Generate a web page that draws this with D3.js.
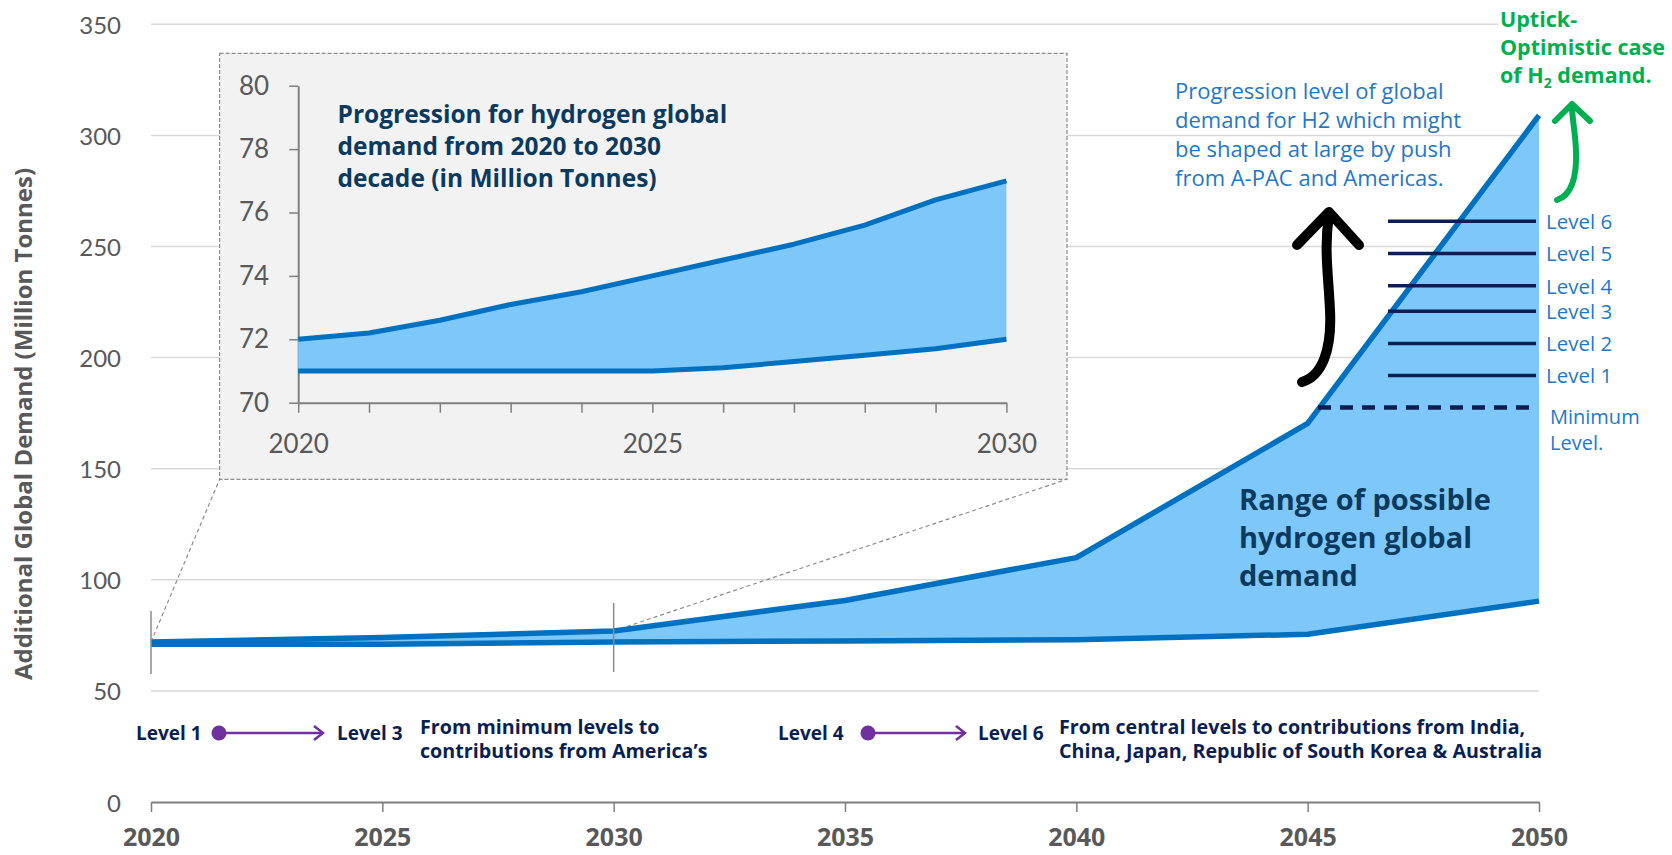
<!DOCTYPE html>
<html>
<head>
<meta charset="utf-8">
<script src="https://cdn.jsdelivr.net/npm/d3@7"></script>
<style>
  body { margin: 0; background: #fff; }
  svg { display: block; font-family: "Open Sans", Lato, sans-serif; }
</style>
</head>
<body>
<svg width="1672" height="855"></svg>
<script>
const [WIDTH, HEIGHT] = [1672, 855]

// main chart data (million tonnes)
const years = [2020, 2025, 2030, 2035, 2040, 2045, 2050]
const upperMain = [72, 74, 77, 90.7, 110, 170.4, 309]
const lowerMain = [71, 71, 72, 72.5, 73, 75.5, 90.4]
const yTicks = [0, 50, 100, 150, 200, 250, 300, 350]

// inset 2020-2030
const insetYears = [2020, 2021, 2022, 2023, 2024, 2025, 2026, 2027, 2028, 2029, 2030]
const insetUpper = [72.0, 72.2, 72.6, 73.1, 73.5, 74.0, 74.5, 75.0, 75.6, 76.4, 77.0]
const insetLower = [71.0, 71.0, 71.0, 71.0, 71.0, 71.0, 71.1, 71.3, 71.5, 71.7, 72.0]
const insetYTicks = [70, 72, 74, 76, 78, 80]
const insetXLabels = [2020, 2025, 2030]

// levels marked on the 2050 range
const levelNames = ["Level 1", "Level 2", "Level 3", "Level 4", "Level 5", "Level 6"]
const levelValues = [192, 206.4, 220.9, 232.3, 246.9, 261.4]
const minLevel = 177.5

const C = {
    grid: "#d9d9d9", axis: "#7f7f7f", tick: "#595959",
    fill: "#7dc8f8", line: "#0070c0", navy: "#0b1f52",
    title: "#0b3a5e", blue: "#1f78c8", green: "#00b050", purple: "#7030a0"
}
const LATO = "Lato, sans-serif"

const svg = d3.select("svg").attr("viewBox", "0 0 " + WIDTH + " " + HEIGHT)

const x = d3.scaleLinear().domain([2020, 2050]).range([151, 1539])
const y = d3.scaleLinear().domain([0, 350]).range([802, 24.3])

const main = years.map((yr, i) => ({ year: yr, hi: upperMain[i], lo: lowerMain[i] }))

// gridlines
svg.append("g").selectAll("line")
    .data(yTicks.filter(d => d > 0))
    .join("line")
    .attr("x1", x(2020)).attr("x2", x(2050))
    .attr("y1", d => y(d)).attr("y2", d => y(d))
    .attr("stroke", C.grid).attr("stroke-width", 1.5)

// y tick labels
svg.append("g").selectAll("text")
    .data(yTicks)
    .join("text")
    .attr("x", 121).attr("y", d => y(d))
    .attr("text-anchor", "end").attr("dominant-baseline", "central")
    .attr("font-family", LATO).attr("font-size", 24).attr("fill", C.tick)
    .text(d => d)

// y title
svg.append("text")
    .attr("transform", "translate(32,424) rotate(-90)")
    .attr("text-anchor", "middle")
    .attr("font-size", 24).attr("font-weight", 700).attr("fill", C.tick)
    .text("Additional Global Demand (Million Tonnes)")

// inset box geometry
const box = { x0: 219.6, x1: 1067, y0: 53.3, y1: 479.3 }

// connectors from main chart to inset
const conn = svg.append("g").attr("stroke", "#8c8c8c").attr("stroke-width", 1.2)
    .attr("stroke-dasharray", "4,3")
conn.append("line").attr("x1", x(2020)).attr("y1", y(72)).attr("x2", box.x0).attr("y2", box.y1)
conn.append("line").attr("x1", x(2030)).attr("y1", y(77)).attr("x2", box.x1).attr("y2", box.y1)

// area + lines
const area = d3.area().x(d => x(d.year)).y0(d => y(d.lo)).y1(d => y(d.hi))
svg.append("path").datum(main).attr("d", area).attr("fill", C.fill)
const lineHi = d3.line().x(d => x(d.year)).y(d => y(d.hi))
const lineLo = d3.line().x(d => x(d.year)).y(d => y(d.lo))
svg.append("path").datum(main).attr("d", lineHi).attr("fill", "none")
    .attr("stroke", C.line).attr("stroke-width", 5.5).attr("stroke-linejoin", "round")
svg.append("path").datum(main).attr("d", lineLo).attr("fill", "none")
    .attr("stroke", C.line).attr("stroke-width", 5.5).attr("stroke-linejoin", "round")

// markers of the zoomed decade
svg.append("line").attr("x1", x(2020)).attr("x2", x(2020)).attr("y1", 611).attr("y2", 674)
    .attr("stroke", "#8c8c8c").attr("stroke-width", 1.5)
svg.append("line").attr("x1", x(2030)).attr("x2", x(2030)).attr("y1", 603).attr("y2", 672)
    .attr("stroke", "#8c8c8c").attr("stroke-width", 1.5)

// level lines
svg.append("g").selectAll("line")
    .data(levelValues)
    .join("line")
    .attr("x1", 1388).attr("x2", 1536)
    .attr("y1", d => y(d)).attr("y2", d => y(d))
    .attr("stroke", C.navy).attr("stroke-width", 3.5)
svg.append("line")
    .attr("x1", 1318).attr("x2", 1537)
    .attr("y1", y(minLevel)).attr("y2", y(minLevel))
    .attr("stroke", C.navy).attr("stroke-width", 4.5).attr("stroke-dasharray", "13,9")

svg.append("g").selectAll("text")
    .data(levelNames)
    .join("text")
    .attr("x", 1546).attr("y", (d, i) => y(levelValues[i]) + 8)
    .attr("font-size", 20.5).attr("fill", C.blue)
    .text(d => d)
const minLab = svg.append("text").attr("font-size", 20).attr("fill", C.blue)
minLab.append("tspan").attr("x", 1550).attr("y", 424).text("Minimum")
minLab.append("tspan").attr("x", 1550).attr("y", 450).text("Level.")

// range label
const rng = svg.append("text").attr("font-size", 29).attr("font-weight", 700).attr("fill", C.title)
;["Range of possible", "hydrogen global", "demand"].forEach((t, i) =>
    rng.append("tspan").attr("x", 1239).attr("y", 510 + i * 38).text(t))

// blue note
const note = svg.append("text").attr("font-size", 22).attr("fill", C.blue)
;["Progression level of global", "demand for H2 which might", "be shaped at large by push", "from A-PAC and Americas."]
    .forEach((t, i) => note.append("tspan").attr("x", 1175).attr("y", 99 + i * 29).text(t))

// green note
svg.append("rect").attr("x", 1498).attr("y", 8).attr("width", 174).attr("height", 24).attr("fill", "#fff")
const gn = svg.append("text").attr("font-size", 21.5).attr("font-weight", 700).attr("fill", C.green)
gn.append("tspan").attr("x", 1500).attr("y", 27).text("Uptick-")
gn.append("tspan").attr("x", 1500).attr("y", 55).text("Optimistic case")
gn.append("tspan").attr("x", 1500).attr("y", 83).text("of H")
gn.append("tspan").attr("font-size", 14).attr("dy", 5).text("2")
gn.append("tspan").attr("dy", -5).text(" demand.")

// arrows
svg.append("path")
    .attr("d", "M1302,382 C1322,376 1332,350 1330,310 C1328,270 1324,250 1329,214")
    .attr("fill", "none").attr("stroke", "#000").attr("stroke-width", 10).attr("stroke-linecap", "round")
svg.append("path")
    .attr("d", "M1297,245 L1329,212 L1359,245")
    .attr("fill", "none").attr("stroke", "#000").attr("stroke-width", 10)
    .attr("stroke-linecap", "round").attr("stroke-linejoin", "round")
svg.append("path")
    .attr("d", "M1557,200 C1572,195 1577,175 1576,150 C1575,130 1572,118 1572,106")
    .attr("fill", "none").attr("stroke", C.green).attr("stroke-width", 6).attr("stroke-linecap", "round")
svg.append("path")
    .attr("d", "M1555,121 L1572,104 L1590,121")
    .attr("fill", "none").attr("stroke", C.green).attr("stroke-width", 6)
    .attr("stroke-linecap", "round").attr("stroke-linejoin", "round")

// bottom level annotations
function levelRange(xa, from, xDot, xEnd, to, xb, lines, xt) {
    const g = svg.append("g").attr("font-weight", 700).attr("fill", C.navy)
    g.append("text").attr("x", xa).attr("y", 740).attr("font-size", 19).text(from)
    g.append("line").attr("x1", xDot).attr("x2", xEnd - 2).attr("y1", 733).attr("y2", 733)
        .attr("stroke", C.purple).attr("stroke-width", 2.5)
    g.append("circle").attr("cx", xDot).attr("cy", 733).attr("r", 7.5).attr("fill", C.purple)
    g.append("path").attr("d", `M${xEnd - 9},726 L${xEnd},733 L${xEnd - 9},740`)
        .attr("fill", "none").attr("stroke", C.purple).attr("stroke-width", 2.5)
    g.append("text").attr("x", xb).attr("y", 740).attr("font-size", 19).text(to)
    const t = g.append("text").attr("font-size", 19.7)
    lines.forEach((l, i) => t.append("tspan").attr("x", xt).attr("y", 734 + i * 24).text(l))
}
levelRange(136, "Level 1", 219, 323, "Level 3", 337,
    ["From minimum levels to", "contributions from America\u2019s"], 420)
levelRange(778, "Level 4", 868, 965, "Level 6", 978,
    ["From central levels to contributions from India,", "China, Japan, Republic of South Korea & Australia"], 1059)

// x axis
const xAxis = svg.append("g").attr("transform", "translate(0,802)")
    .call(d3.axisBottom(x).tickValues(years).tickSize(10).tickSizeOuter(0).tickFormat(d3.format("d")))
xAxis.select(".domain").attr("stroke", C.axis).attr("stroke-width", 2)
xAxis.selectAll(".tick line").attr("stroke", C.axis).attr("stroke-width", 1.5)
xAxis.selectAll(".tick text").attr("y", 44).attr("dy", null)
    .attr("font-family", "'Open Sans', sans-serif").attr("font-size", 25).attr("font-weight", 700).attr("fill", C.tick)

// ---------- inset ----------
svg.append("rect")
    .attr("x", box.x0).attr("y", box.y0)
    .attr("width", box.x1 - box.x0).attr("height", box.y1 - box.y0)
    .attr("fill", "#f2f2f2").attr("stroke", "#8c8c8c").attr("stroke-width", 1.2)
    .attr("stroke-dasharray", "4,2")

const ix = d3.scaleLinear().domain([2020, 2030]).range([298.2, 1006.4])
const iy = d3.scaleLinear().domain([70, 80]).range([402.7, 85.7])
const inset = insetYears.map((yr, i) => ({ year: yr, hi: insetUpper[i], lo: insetLower[i] }))

const iyAxis = svg.append("g").attr("transform", "translate(298.2,0)")
    .call(d3.axisLeft(iy).tickValues(insetYTicks).tickSize(9).tickSizeOuter(0).tickPadding(20))
const ixAxis = svg.append("g").attr("transform", "translate(0,402.7)")
    .call(d3.axisBottom(ix).tickValues(insetYears).tickSize(10).tickSizeOuter(0)
        .tickFormat(d => insetXLabels.includes(d) ? d : ""))
for (const a of [iyAxis, ixAxis]) {
    a.select(".domain").attr("stroke", C.axis).attr("stroke-width", 2)
    a.selectAll(".tick line").attr("stroke", C.axis).attr("stroke-width", 1.5)
    a.selectAll(".tick text").attr("font-family", LATO).attr("font-size", 26).attr("fill", C.tick)
}
ixAxis.selectAll(".tick text").attr("y", 50).attr("dy", null)

const iarea = d3.area().x(d => ix(d.year)).y0(d => iy(d.lo)).y1(d => iy(d.hi))
svg.append("path").datum(inset).attr("d", iarea).attr("fill", C.fill)
svg.append("path").datum(inset).attr("d", d3.line().x(d => ix(d.year)).y(d => iy(d.hi)))
    .attr("fill", "none").attr("stroke", C.line).attr("stroke-width", 5).attr("stroke-linejoin", "round")
svg.append("path").datum(inset).attr("d", d3.line().x(d => ix(d.year)).y(d => iy(d.lo)))
    .attr("fill", "none").attr("stroke", C.line).attr("stroke-width", 5).attr("stroke-linejoin", "round")

const it = svg.append("text").attr("font-size", 24.5).attr("font-weight", 700).attr("fill", C.title)
;["Progression for hydrogen global", "demand from 2020 to 2030", "decade (in Million Tonnes)"]
    .forEach((t, i) => it.append("tspan").attr("x", 337.5).attr("y", 123 + i * 32).text(t))
</script>
</body>
</html>
